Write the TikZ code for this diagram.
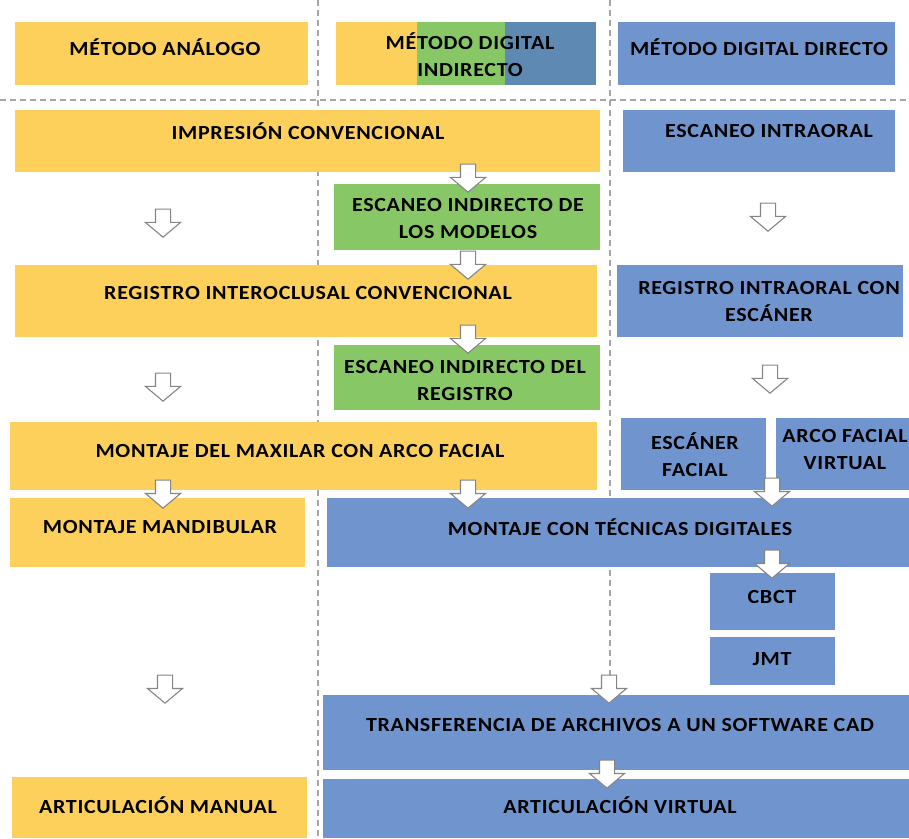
\documentclass[tikz,border=0pt]{standalone}
\usepackage{fontspec}
\setmainfont{Carlito}[FakeStretch=1.1,LetterSpace=3.5]
\usetikzlibrary{shapes.arrows}
\definecolor{amarillo}{HTML}{FDD05B}
\definecolor{verde}{HTML}{88C766}
\definecolor{azul}{HTML}{7095CE}
\definecolor{azulosc}{HTML}{5E89B2}
\definecolor{gris}{HTML}{A6A6A6}
\begin{document}
\begin{tikzpicture}[x=1pt,y=-1pt,
 caja/.style={fill=#1,draw=none,inner sep=0pt},
 txt/.style={font=\fontsize{20}{27}\selectfont\bfseries,align=center,inner sep=0pt},
 separador/.style={gris,line width=1.3pt,dash pattern=on 6pt off 4pt},
 flecha/.style={single arrow,draw=gris!80!black,fill=white,line width=1.1pt,rotate=-90,
   minimum height=28,minimum width=34,single arrow head extend=10,
   single arrow tip angle=100,inner xsep=0pt,inner ysep=7pt}]
 \useasboundingbox (0,0) rectangle (909,838);
 % separadores
 \draw[separador] (318,0)--(318,838);
 \draw[separador] (610,0)--(610,838);
 \draw[separador] (0,100)--(909,100);
 % cabeceras
 \node[caja=amarillo,minimum width=293,minimum height=63] (analogo) at (161.5,53.5) {};
 \node[caja=white,minimum width=260,minimum height=63,
   path picture={
     \fill[amarillo] (path picture bounding box.north west) rectangle +(81,63);
     \fill[verde] ([xshift=81]path picture bounding box.north west) rectangle +(88,63);
     \fill[azulosc] ([xshift=169]path picture bounding box.north west) rectangle +(91,63);
   }] (indirecto) at (466,53.5) {};
 \node[caja=azul,minimum width=277,minimum height=63] (directo) at (756.5,53.5) {};
 \node[txt] (t-analogo) at (165,47) {MÉTODO ANÁLOGO};
 \node[txt] (t-indirecto) at (470,55) {MÉTODO DIGITAL\\INDIRECTO};
 \node[txt] (t-directo) at (759,47) {MÉTODO DIGITAL DIRECTO};
 % cajas
 \node[caja=amarillo,minimum width=585,minimum height=62] (imp) at (307.5,141) {};
 \node[caja=azul,minimum width=272,minimum height=62] (intraoral) at (759,141) {};
 \node[caja=verde,minimum width=266,minimum height=66] (escmod) at (467,217) {};
 \node[caja=amarillo,minimum width=582,minimum height=72] (regconv) at (306,301) {};
 \node[caja=azul,minimum width=286,minimum height=72] (regintra) at (760,301) {};
 \node[caja=verde,minimum width=266,minimum height=65] (escreg) at (467,377.5) {};
 \node[caja=amarillo,minimum width=587,minimum height=68] (maxilar) at (303.5,456) {};
 \node[caja=azul,minimum width=145,minimum height=72] (escfacial) at (693.5,454) {};
 \node[caja=azul,minimum width=133,minimum height=72] (arcovirt) at (842.5,454) {};
 \node[caja=amarillo,minimum width=295,minimum height=69] (mandib) at (157.5,532.5) {};
 \node[caja=azul,minimum width=582,minimum height=69] (montdig) at (618,532.5) {};
 \node[caja=azul,minimum width=125,minimum height=57] (cbct) at (772.5,601.5) {};
 \node[caja=azul,minimum width=125,minimum height=48] (jmt) at (772.5,661) {};
 \node[caja=azul,minimum width=586,minimum height=75] (transf) at (616,732.5) {};
 \node[caja=amarillo,minimum width=295,minimum height=61] (artman) at (159.5,807.5) {};
 \node[caja=azul,minimum width=586,minimum height=59] (artvirt) at (616,808.5) {};
 % textos
 \node[txt] (t-imp) at (308,131) {IMPRESIÓN CONVENCIONAL};
 \node[txt] (t-intraoral) at (769,131) {ESCANEO INTRAORAL};
 \node[txt] (t-escmod) at (468,219) {ESCANEO INDIRECTO DE\\LOS MODELOS};
 \node[txt] (t-regconv) at (308,293) {REGISTRO INTEROCLUSAL CONVENCIONAL};
 \node[txt] (t-regintra) at (769,302) {REGISTRO INTRAORAL CON\\ESCÁNER};
 \node[txt] (t-escreg) at (465,381) {ESCANEO INDIRECTO DEL\\REGISTRO};
 \node[txt] (t-maxilar) at (300,451) {MONTAJE DEL MAXILAR CON ARCO FACIAL};
 \node[txt] (t-escfacial) at (695,455) {ESCÁNER\\FACIAL};
 \node[txt] (t-arcovirt) at (845,450) {ARCO FACIAL\\VIRTUAL};
 \node[txt] (t-mandib) at (160,527) {MONTAJE MANDIBULAR};
 \node[txt] (t-montdig) at (620,527) {MONTAJE CON TÉCNICAS DIGITALES};
 \node[txt] (t-cbct) at (772,597) {CBCT};
 \node[txt] (t-jmt) at (772,659) {JMT};
 \node[txt] (t-transf) at (620,725) {TRANSFERENCIA DE ARCHIVOS A UN SOFTWARE CAD};
 \node[txt] (t-artman) at (158,805) {ARTICULACIÓN MANUAL};
 \node[txt] (t-artvirt) at (620,805) {ARTICULACIÓN VIRTUAL};
 % flechas
 \node[flecha] (f1) at (468,175) {};
 \node[flecha] (f2) at (163,220) {};
 \node[flecha] (f3) at (768,214) {};
 \node[flecha] (f4) at (468,262) {};
 \node[flecha] (f5) at (468,336) {};
 \node[flecha] (f6) at (163,384) {};
 \node[flecha] (f7) at (770,376) {};
 \node[flecha] (f8) at (163,491) {};
 \node[flecha] (f9) at (468,491) {};
 \node[flecha] (f10) at (772,489) {};
 \node[flecha] (f11) at (772,561) {};
 \node[flecha] (f12) at (165,686) {};
 \node[flecha] (f13) at (609,686) {};
 \node[flecha] (f14) at (607,771) {};
\end{tikzpicture}
\end{document}
